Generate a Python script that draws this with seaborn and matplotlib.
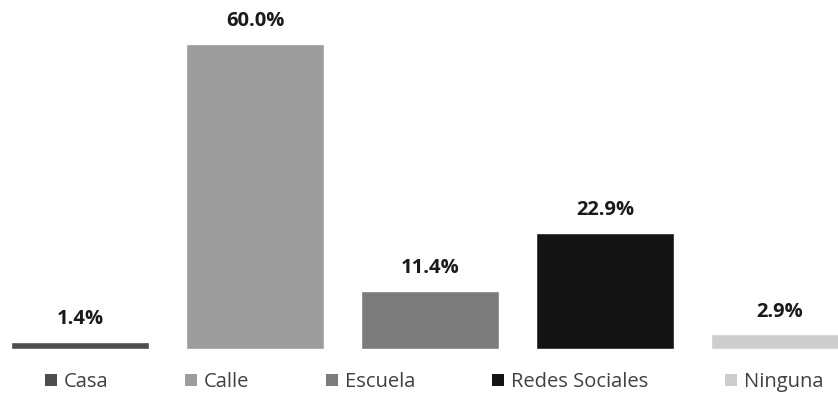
import seaborn as sns
import matplotlib.pyplot as plt
from matplotlib.patches import Patch
import pandas as pd

# Data
categories = ['Casa', 'Calle', 'Escuela', 'Redes Sociales', 'Ninguna']
values = [1.4, 60.0, 11.4, 22.9, 2.9]
colors = ['#4d4d4d', '#9c9c9c', '#7c7c7c', '#141414', '#cdcdcd']

df = pd.DataFrame({'Categoria': categories, 'Porcentaje': values})

sns.set_style("white")
plt.rcParams['font.family'] = ['Open Sans', 'DejaVu Sans']

fig = plt.figure(figsize=(8.38, 3.94), dpi=100)
ax = fig.add_axes([0, 45 / 394, 1, 349 / 394])

sns.barplot(data=df, x='Categoria', y='Porcentaje', hue='Categoria',
            palette=colors, width=0.79, legend=False, ax=ax, saturation=1)

for i, v in enumerate(values):
    ax.text(i, v + 2.5, f"{v:.1f}%", ha='center', va='bottom',
            fontsize=14.5, fontweight='bold', color='#1a1a1a')

ax.set_xlim(-80 / 175, 758 / 175)
ax.set_ylim(0, 349 / (305 / 60))
ax.set_axis_off()

handles = [Patch(facecolor=c, edgecolor='none', label=l) for c, l in zip(colors, categories)]
fig.legend(handles=handles, loc='center', bbox_to_anchor=(0.518, 12 / 394),
           ncol=5, frameon=False, fontsize=14.5, handlelength=0.6, handleheight=0.6,
           handletextpad=0.35, columnspacing=3.8, labelcolor='#404040')

fig.savefig("out.png", dpi=100)
plt.close()
